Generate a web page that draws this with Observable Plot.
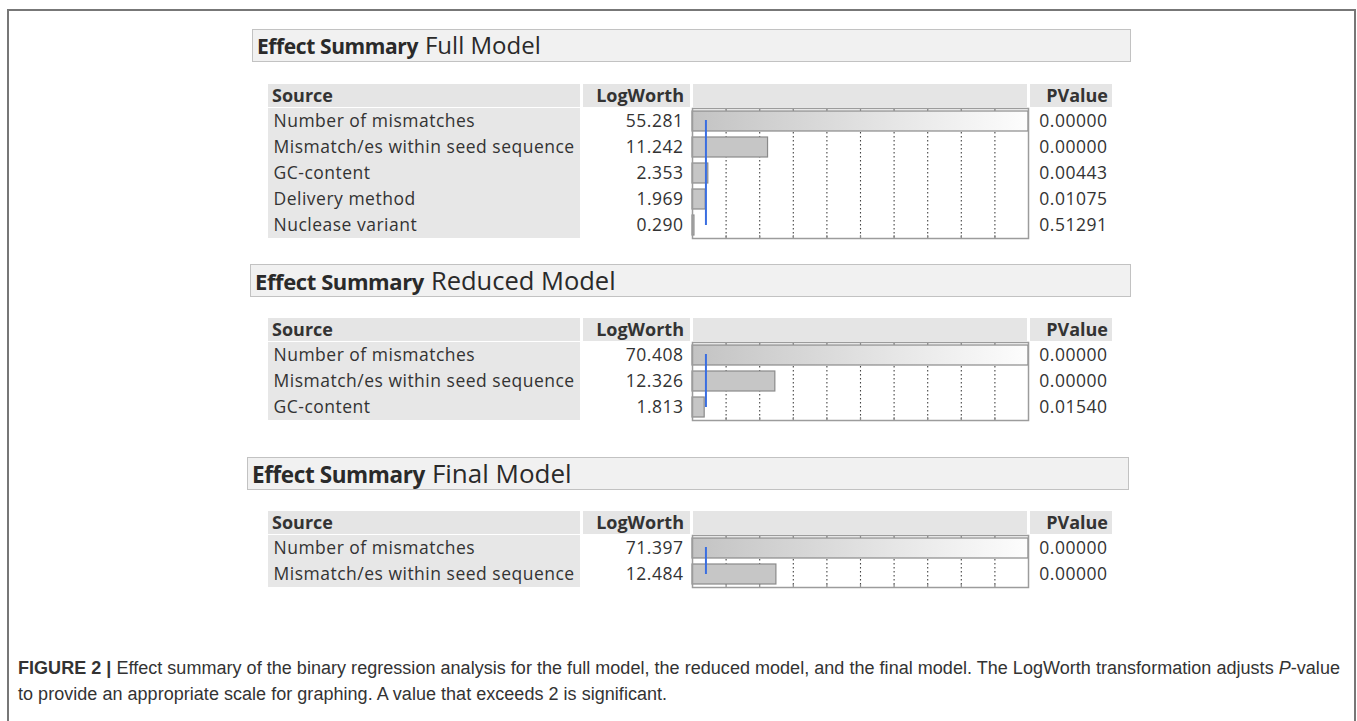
<!DOCTYPE html>
<html><head><meta charset="utf-8">
<script src="https://cdn.jsdelivr.net/npm/d3@7"></script>
<script src="https://cdn.jsdelivr.net/npm/@observablehq/plot@0.6"></script>
<style>
body{margin:0;width:1357px;height:721px;overflow:hidden;background:#fff;font-family:"Open Sans",sans-serif;color:#333;position:relative}
.frame{position:absolute;left:7px;top:9px;width:1349px;height:800px;border:2px solid #777;border-bottom:none;box-sizing:border-box}
.title{position:absolute;height:33px;background:#f1f1f1;border:1.5px solid #c2c2c2;box-sizing:border-box;white-space:nowrap;line-height:30px;padding-left:4px;color:#2a2a2a}
.title b{font-weight:700;letter-spacing:-0.4px}
.title span{margin-left:7px}
.cell{position:absolute;height:23px;background:#e5e5e5;font-weight:700;font-size:18px;line-height:23px;color:#333;box-sizing:border-box;white-space:nowrap}
.srccol{position:absolute;background:#e7e7e7}
.cap{position:absolute;left:18px;font-family:"Liberation Sans",Arial,sans-serif;font-size:18px;color:#333;white-space:nowrap}
</style></head>
<body>
<div class="frame"></div>
<div id="root"></div>
<div class="cap" id="cap1" style="top:658px"><b>FIGURE 2 |</b> Effect summary of the binary regression analysis for the full model, the reduced model, and the final model. The LogWorth transformation adjusts <i>P</i>-value</div>
<div class="cap" id="cap2" style="top:684px">to provide an appropriate scale for graphing. A value that exceeds 2 is significant.</div>
<script>
// ---- data ----
const panelTitles = ["Full Model", "Reduced Model", "Final Model"];
const fullSources = ["Number of mismatches", "Mismatch/es within seed sequence", "GC-content", "Delivery method", "Nuclease variant"];
const fullLogWorth = [55.281, 11.242, 2.353, 1.969, 0.290];
const fullPValue = [0.00000, 0.00000, 0.00443, 0.01075, 0.51291];
const reducedSources = ["Number of mismatches", "Mismatch/es within seed sequence", "GC-content"];
const reducedLogWorth = [70.408, 12.326, 1.813];
const reducedPValue = [0.00000, 0.00000, 0.01540];
const finalSources = ["Number of mismatches", "Mismatch/es within seed sequence"];
const finalLogWorth = [71.397, 12.484];
const finalPValue = [0.00000, 0.00000];
const gridTicks = [5, 10, 15, 20, 25, 30, 35, 40, 45];
const scaleMax = 50;
const significance = 2;

// ---- caption fit: first line spans the full caption width ----
(function fitCaption() {
  const c1 = document.getElementById("cap1"), c2 = document.getElementById("cap2");
  const target = 1322;
  const w = c1.getBoundingClientRect().width;
  const n = c1.textContent.length;
  const ls = Math.max(0, (target - w) / n);
  c1.style.letterSpacing = ls + "px";
  c2.style.letterSpacing = ls + "px";
})();

// ---- layout ----
const root = document.getElementById("root");
const ROW = 26, MT = 4, MB = 4;
const FRAME_L = 692, FRAME_R = 1028, W = 1357;

function div(cls, css, html) {
  const d = document.createElement("div");
  d.className = cls;
  Object.assign(d.style, css);
  if (html != null) d.innerHTML = html;
  root.appendChild(d);
  return d;
}

function panel(idx, sources, lw, pv, titleTop, titleLeft, titleRight, frameTop, boldSize, regSize) {
  const rows = sources.map((s, i) => ({source: s, lw: lw[i], pv: pv[i]}));
  const n = rows.length;
  // title bar
  div("title", {left: titleLeft + "px", top: titleTop + "px", width: (titleRight - titleLeft) + "px"},
      `<b style="font-size:${boldSize}px">Effect Summary</b><span style="font-size:${regSize}px">${panelTitles[idx]}</span>`);
  // header row
  const hTop = frameTop - 24;
  div("cell", {left: "268px", top: hTop + "px", width: "312px", paddingLeft: "4px"}, "Source");
  div("cell", {left: "583px", top: hTop + "px", width: "107px", textAlign: "right", paddingRight: "6px"}, "LogWorth");
  div("cell", {left: "693px", top: hTop + "px", width: "334px"}, "");
  div("cell", {left: "1030px", top: hTop + "px", width: "82px", textAlign: "right", paddingRight: "4px"}, "PValue");
  // source column background
  div("srccol", {left: "268px", top: frameTop + "px", width: "312px", height: (n * ROW) + "px"});

  const gid = "lwgrad" + idx;
  const svg = Plot.plot({
    width: W, height: n * ROW + MT + MB,
    marginTop: MT, marginBottom: MB, marginLeft: FRAME_L, marginRight: W - FRAME_R,
    x: {domain: [0, scaleMax], clamp: true, axis: null},
    y: {domain: sources, axis: null, padding: 0},
    style: {background: "transparent", fontFamily: "'Open Sans', sans-serif", fontSize: "17.5px", letterSpacing: "0.5px", color: "#333",
            position: "absolute", left: "0px", top: (frameTop - MT) + "px", overflow: "visible"},
    marks: [
      Plot.ruleX(gridTicks, {stroke: "#444", strokeDasharray: "1.5,2.5", strokeWidth: 1.1}),
      Plot.ruleX(gridTicks, {stroke: "#8a8a8a", strokeWidth: 1.2, insetBottom: n * ROW - 3}),
      Plot.ruleX(gridTicks, {stroke: "#8a8a8a", strokeWidth: 1.2, insetTop: n * ROW - 3}),
      Plot.barX(rows.filter(d => d.lw <= scaleMax), {x: "lw", y: "source", fill: "#c6c6c6", stroke: "#8a8a8a", strokeWidth: 1.2, insetTop: 3, insetBottom: 3}),
      Plot.barX(rows.filter(d => d.lw > scaleMax), {x: "lw", y: "source", fill: `url(#${gid})`, stroke: "#8a8a8a", strokeWidth: 1.2, insetTop: 3, insetBottom: 3}),
      Plot.ruleX([significance], {stroke: "#3a6ee0", strokeWidth: 2, insetTop: 12, insetBottom: 13}),
      Plot.frame({stroke: "#9c9c9c", strokeWidth: 1.5}),
      Plot.text(rows, {y: "source", text: "source", frameAnchor: "left", dx: -419, textAnchor: "start", fill: "#333"}),
      Plot.text(rows, {y: "source", text: d => d.lw.toFixed(3), frameAnchor: "left", dx: -9, textAnchor: "end", fill: "#333"}),
      Plot.text(rows, {y: "source", text: d => d.pv.toFixed(5), frameAnchor: "right", dx: 79, textAnchor: "end", fill: "#333"})
    ]
  });
  const ns = "http://www.w3.org/2000/svg";
  const defs = document.createElementNS(ns, "defs");
  defs.innerHTML = `<linearGradient id="${gid}" x1="0" x2="1" y1="0" y2="0"><stop offset="0" stop-color="#c3c3c3"/><stop offset="1" stop-color="#fdfdfd"/></linearGradient>`;
  svg.insertBefore(defs, svg.firstChild);
  root.appendChild(svg);
}

panel(0, fullSources, fullLogWorth, fullPValue, 29, 252, 1131, 108, 21, 24);
panel(1, reducedSources, reducedLogWorth, reducedPValue, 264, 250, 1131, 342, 22, 25.5);
panel(2, finalSources, finalLogWorth, finalPValue, 457, 247, 1129, 535, 22.5, 26);
</script>
</body></html>
